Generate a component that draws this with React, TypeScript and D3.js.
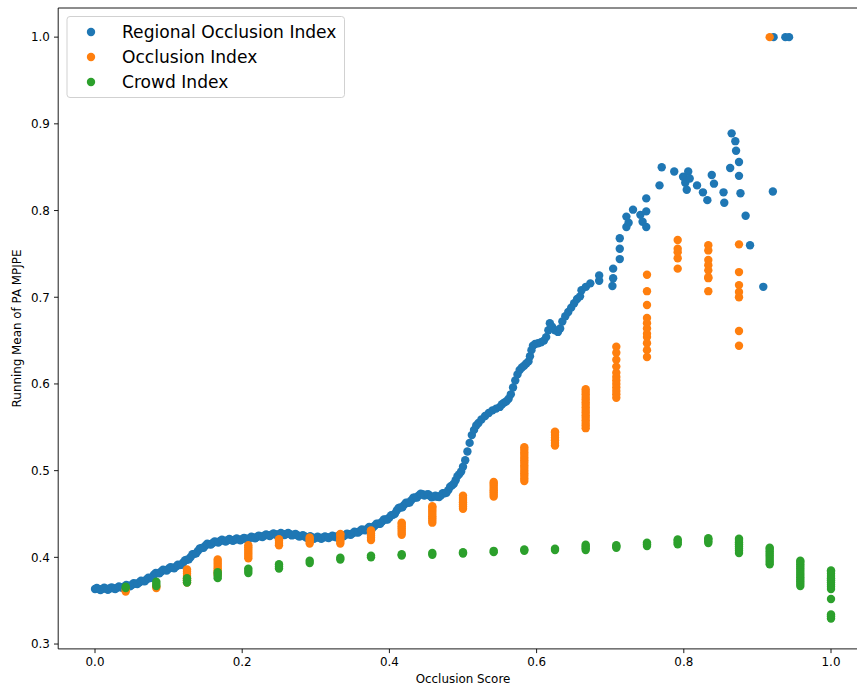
import React from "react";
import * as d3 from "d3";

// ---------- DATA ----------
const xTicks = [0.0, 0.2, 0.4, 0.6, 0.8, 1.0];
const yTicks = [0.3, 0.4, 0.5, 0.6, 0.7, 0.8, 0.9, 1.0];
const seriesNames = ["Regional Occlusion Index", "Occlusion Index", "Crowd Index"];
const seriesColors = ["#1f77b4", "#ff7f0e", "#2ca02c"];

// Regional Occlusion Index: running mean vs occlusion score
const regionalScores = [
  0.000, 0.005, 0.010, 0.015, 0.020, 0.025, 0.030, 0.035, 0.040, 0.045,
  0.050, 0.055, 0.060, 0.065, 0.070, 0.075, 0.080, 0.085, 0.090, 0.095,
  0.100, 0.105, 0.110, 0.115, 0.120, 0.125, 0.130, 0.135, 0.140, 0.145,
  0.150, 0.155, 0.160, 0.165, 0.170, 0.175, 0.180, 0.185, 0.190, 0.195,
  0.200, 0.205, 0.210, 0.215, 0.220, 0.225, 0.230, 0.235, 0.240, 0.245,
  0.250, 0.255, 0.260, 0.265, 0.270, 0.275, 0.280, 0.285, 0.290, 0.295,
  0.300, 0.305, 0.310, 0.315, 0.320, 0.325, 0.330, 0.335, 0.340, 0.345,
  0.350, 0.355, 0.360, 0.365, 0.370, 0.375, 0.380, 0.385, 0.390, 0.395,
  0.400, 0.405, 0.410, 0.415, 0.420, 0.425, 0.430, 0.435, 0.440, 0.445,
  0.450, 0.455, 0.460, 0.465, 0.470, 0.475, 0.480, 0.485, 0.490, 0.495,
  0.500, 0.503, 0.506, 0.509, 0.512, 0.515, 0.518, 0.521, 0.525, 0.530,
  0.535, 0.540, 0.545, 0.550, 0.553, 0.556, 0.559, 0.562, 0.565, 0.568,
  0.571, 0.574, 0.577, 0.580, 0.583, 0.586, 0.589, 0.591, 0.593, 0.595,
  0.598, 0.602, 0.606, 0.610, 0.613, 0.616, 0.618, 0.621, 0.625, 0.629,
  0.632, 0.635, 0.639, 0.643, 0.647, 0.651, 0.655, 0.659, 0.661, 0.667,
  0.673, 0.685, 0.685, 0.703, 0.704, 0.704, 0.713, 0.713, 0.713, 0.722,
  0.725, 0.722, 0.731, 0.741, 0.744, 0.749, 0.749, 0.749, 0.767, 0.770,
  0.787, 0.799, 0.802, 0.804, 0.806, 0.808, 0.818, 0.826, 0.832, 0.838,
  0.841, 0.854, 0.855, 0.863, 0.865, 0.870, 0.871, 0.875, 0.875, 0.877,
  0.884, 0.890, 0.908, 0.921, 0.922, 0.938, 0.943,
  0.0025, 0.0075, 0.0125, 0.0175, 0.0225, 0.0275, 0.0325, 0.0375, 0.0425, 0.0475,
  0.0525, 0.0575, 0.0625, 0.0675, 0.0725, 0.0775, 0.0825, 0.0875, 0.0925, 0.0975,
  0.1025, 0.1075, 0.1125, 0.1175, 0.1225, 0.1275, 0.1325, 0.1375, 0.1425, 0.1475,
  0.1525, 0.1575, 0.1625, 0.1675, 0.1725, 0.1775, 0.1825, 0.1875, 0.1925, 0.1975,
  0.2025, 0.2075, 0.2125, 0.2175, 0.2225, 0.2275, 0.2325, 0.2375, 0.2425, 0.2475,
  0.2525, 0.2575, 0.2625, 0.2675, 0.2725, 0.2775, 0.2825, 0.2875, 0.2925, 0.2975,
  0.3025, 0.3075, 0.3125, 0.3175, 0.3225, 0.3275, 0.3325, 0.3375, 0.3425, 0.3475,
  0.3525, 0.3575, 0.3625, 0.3675, 0.3725, 0.3775, 0.3825, 0.3875, 0.3925, 0.3975,
  0.4025, 0.4075, 0.4125, 0.4175, 0.4225, 0.4275, 0.4325, 0.4375, 0.4425, 0.4475,
  0.4525, 0.4575, 0.4625, 0.4675, 0.4725, 0.4775, 0.4825, 0.4875, 0.4925, 0.4975,
];
const regionalMeans = [
  0.3635, 0.3634, 0.3636, 0.3638, 0.3640, 0.3643, 0.3648, 0.3655, 0.3665, 0.3672,
  0.3682, 0.3695, 0.3710, 0.3726, 0.3744, 0.3762, 0.3800, 0.3818, 0.3836, 0.3853,
  0.3868, 0.3880, 0.3893, 0.3912, 0.3940, 0.3972, 0.4005, 0.4040, 0.4075, 0.4108,
  0.4135, 0.4152, 0.4165, 0.4178, 0.4188, 0.4193, 0.4197, 0.4200, 0.4203, 0.4207,
  0.4210, 0.4215, 0.4222, 0.4228, 0.4235, 0.4242, 0.4250, 0.4256, 0.4262, 0.4266,
  0.4268, 0.4270, 0.4270, 0.4268, 0.4262, 0.4255, 0.4247, 0.4240, 0.4233, 0.4228,
  0.4226, 0.4226, 0.4228, 0.4232, 0.4236, 0.4240, 0.4244, 0.4250, 0.4258, 0.4266,
  0.4277, 0.4290, 0.4303, 0.4316, 0.4330, 0.4345, 0.4365, 0.4388, 0.4412, 0.4437,
  0.4460, 0.4490, 0.4540, 0.4575, 0.4605, 0.4630, 0.4660, 0.4690, 0.4715, 0.4728,
  0.4722, 0.4710, 0.4700, 0.4698, 0.4715, 0.4740, 0.4775, 0.4830, 0.4890, 0.4960,
  0.5045, 0.5120, 0.5220, 0.5320, 0.5410, 0.5470, 0.5520, 0.5550, 0.5590, 0.5630,
  0.5665, 0.5695, 0.5715, 0.5735, 0.5765, 0.5785, 0.5800, 0.5830, 0.5880, 0.5960,
  0.6040, 0.6110, 0.6160, 0.6190, 0.6210, 0.6235, 0.6260, 0.6320, 0.6390, 0.6440,
  0.6460, 0.6470, 0.6480, 0.6500, 0.6540, 0.6620, 0.6700, 0.6660, 0.6620, 0.6600,
  0.6640, 0.6720, 0.6780, 0.6830, 0.6880, 0.6930, 0.6980, 0.7010, 0.7080, 0.7120,
  0.7160, 0.7190, 0.7250, 0.7130, 0.7220, 0.7330, 0.7440, 0.7560, 0.7680, 0.7810,
  0.7860, 0.7930, 0.8010, 0.7950, 0.7870, 0.7810, 0.7990, 0.8140, 0.8290, 0.8500,
  0.8450, 0.8390, 0.8320, 0.8240, 0.8450, 0.8370, 0.8290, 0.8210, 0.8120, 0.8410,
  0.8310, 0.8210, 0.8090, 0.8490, 0.8890, 0.8800, 0.8690, 0.8560, 0.8400, 0.8200,
  0.7940, 0.7600, 0.7120, 0.8220, 1.0000, 1.0000, 1.0000,
  0.3646, 0.3623, 0.3649, 0.3627, 0.3654, 0.3634, 0.3664, 0.3648, 0.3681, 0.3665,
  0.3701, 0.3691, 0.3730, 0.3723, 0.3765, 0.3769, 0.3821, 0.3815, 0.3857, 0.3849,
  0.3886, 0.3875, 0.3915, 0.3914, 0.3968, 0.3977, 0.4035, 0.4046, 0.4104, 0.4110,
  0.4156, 0.4147, 0.4184, 0.4171, 0.4203, 0.4183, 0.4211, 0.4190, 0.4217, 0.4197,
  0.4225, 0.4207, 0.4237, 0.4220, 0.4251, 0.4234, 0.4265, 0.4247, 0.4276, 0.4255,
  0.4281, 0.4258, 0.4281, 0.4253, 0.4271, 0.4239, 0.4256, 0.4225, 0.4243, 0.4215,
  0.4238, 0.4215, 0.4242, 0.4222, 0.4250, 0.4230, 0.4259, 0.4242, 0.4274, 0.4260,
  0.4296, 0.4285, 0.4322, 0.4311, 0.4350, 0.4343, 0.4389, 0.4388, 0.4437, 0.4437,
  0.4487, 0.4503, 0.4570, 0.4578, 0.4630, 0.4633, 0.4687, 0.4691, 0.4734, 0.4713,
  0.4728, 0.4693, 0.4711, 0.4695, 0.4740, 0.4746, 0.4815, 0.4848, 0.4937, 0.4991,
];

// Occlusion Index & Crowd Index: values grouped at discrete scores
const binScores = [
  0.0417, 0.0833, 0.125, 0.1667, 0.2083, 0.25, 0.2917, 0.3333, 0.375, 0.4167,
  0.4583, 0.5, 0.5417, 0.5833, 0.625, 0.6667, 0.7083, 0.75, 0.7917, 0.8333,
  0.875, 0.9167, 0.9583, 1.0,
];
const occlusionValues: number[][] = [
  [0.3605, 0.3625],
  [0.3645, 0.3665],
  [0.371, 0.3735, 0.376, 0.3785, 0.381, 0.3835, 0.386],
  [0.38, 0.3825, 0.385, 0.3875, 0.39, 0.3925, 0.395, 0.3975],
  [0.399, 0.4015, 0.404, 0.4065, 0.409, 0.4115, 0.414],
  [0.414, 0.4165, 0.419, 0.421],
  [0.416, 0.4185, 0.421, 0.423],
  [0.416, 0.4185, 0.421, 0.4235, 0.426, 0.427],
  [0.42, 0.4225, 0.425, 0.4275, 0.43, 0.431],
  [0.426, 0.4285, 0.431, 0.4335, 0.436, 0.4385, 0.44],
  [0.44, 0.4425, 0.445, 0.4475, 0.45, 0.4525, 0.455, 0.4575, 0.459],
  [0.456, 0.4585, 0.461, 0.4635, 0.466, 0.4685, 0.471],
  [0.47, 0.4725, 0.475, 0.4775, 0.48, 0.4825, 0.485, 0.487],
  [0.488, 0.491, 0.494, 0.497, 0.5, 0.503, 0.506, 0.509, 0.512, 0.515, 0.518, 0.521, 0.524, 0.527],
  [0.529, 0.532, 0.535, 0.538, 0.541, 0.544, 0.545],
  [0.549, 0.552, 0.555, 0.558, 0.561, 0.564, 0.567, 0.57, 0.573, 0.576, 0.579, 0.582, 0.585, 0.588, 0.591, 0.594],
  [0.584, 0.588, 0.592, 0.596, 0.6, 0.604, 0.608, 0.613, 0.62, 0.628, 0.636, 0.643],
  [0.631, 0.639, 0.647, 0.654, 0.658, 0.664, 0.67, 0.676, 0.691, 0.707, 0.726],
  [0.733, 0.745, 0.752, 0.756, 0.766],
  [0.707, 0.722, 0.723, 0.731, 0.737, 0.743, 0.754, 0.76],
  [0.644, 0.661, 0.7, 0.706, 0.714, 0.729, 0.761],
  [1.0],
  [],
  [],
];
const crowdValues: number[][] = [
  [0.3645, 0.366],
  [0.367, 0.3695, 0.372],
  [0.371, 0.3735, 0.376],
  [0.376, 0.3785, 0.381, 0.383],
  [0.382, 0.3845, 0.387],
  [0.387, 0.3895, 0.392],
  [0.3935, 0.396],
  [0.3975, 0.3995],
  [0.4, 0.402],
  [0.402, 0.4035],
  [0.403, 0.405],
  [0.4045, 0.406],
  [0.406, 0.4075],
  [0.4075, 0.409],
  [0.4085, 0.41],
  [0.4085, 0.4105, 0.4125, 0.4145],
  [0.411, 0.4125, 0.414],
  [0.413, 0.415, 0.417],
  [0.415, 0.417, 0.419, 0.4205],
  [0.4165, 0.4185, 0.4205, 0.422],
  [0.405, 0.4075, 0.41, 0.4125, 0.415, 0.4175, 0.42, 0.4215],
  [0.392, 0.3945, 0.397, 0.3995, 0.402, 0.4045, 0.407, 0.4095, 0.411],
  [0.367, 0.3695, 0.372, 0.3745, 0.377, 0.3795, 0.382, 0.3845, 0.387, 0.3895, 0.392, 0.3945, 0.396],
  [0.3635, 0.366, 0.3685, 0.371, 0.3735, 0.376, 0.3785, 0.381, 0.3835, 0.385, 0.352, 0.3295, 0.332, 0.334],
];

// ---------- LAYOUT ----------
const W = 857;
const H = 686;
const FONT = "'DejaVu Sans', sans-serif";
const R = 4.2;

export default function App() {
  const x = d3.scaleLinear().domain([-0.05, 1.05]).range([58.2, 867.8]);
  const y = d3.scaleLinear().domain([0.2944, 1.0336]).range([648.9, 8]);
  const [x0, x1] = x.range();
  const [yb, yt] = y.range();

  const regional = regionalScores.map((s, i) => [s, regionalMeans[i]]);
  const occl = binScores.flatMap((s, i) => occlusionValues[i].map((v) => [s, v]));
  const crowd = binScores.flatMap((s, i) => crowdValues[i].map((v) => [s, v]));
  const groups = [regional, occl, crowd];

  return (
    <div style={{ position: "absolute", left: 0, top: 0 }}>
      <svg width={W} height={H} style={{ display: "block", background: "#fff" }}>
        {groups.map((pts, gi) => (
          <g key={gi} fill={seriesColors[gi]}>
            {pts.map((p, i) => (
              <circle key={i} cx={x(p[0])} cy={y(p[1])} r={R} />
            ))}
          </g>
        ))}
        {/* spines */}
        <g stroke="#000" strokeWidth={0.9} fill="none">
          <line x1={x0} x2={x0} y1={yb} y2={yt} />
          <line x1={x0} x2={x1} y1={yb} y2={yb} />
          <line x1={x0} x2={x1} y1={yt} y2={yt} />
          <line x1={x1} x2={x1} y1={yb} y2={yt} />
        </g>
        {/* x ticks */}
        {xTicks.map((t) => (
          <g key={"x" + t} transform={`translate(${x(t)},${yb})`}>
            <line y1={0} y2={4.2} stroke="#000" strokeWidth={0.9} />
            <text y={17} textAnchor="middle" fontFamily={FONT} fontSize={11.9} fill="#000">
              {t.toFixed(1)}
            </text>
          </g>
        ))}
        {/* y ticks */}
        {yTicks.map((t) => (
          <g key={"y" + t} transform={`translate(${x0},${y(t)})`}>
            <line x1={0} x2={-4.2} stroke="#000" strokeWidth={0.9} />
            <text x={-8.4} dy="0.36em" textAnchor="end" fontFamily={FONT} fontSize={11.9} fill="#000">
              {t.toFixed(1)}
            </text>
          </g>
        ))}
        <text x={463} y={683} textAnchor="middle" fontFamily={FONT} fontSize={11.9} fill="#000">
          Occlusion Score
        </text>
        <text
          transform={`translate(21,${(yb + yt) / 2}) rotate(-90)`}
          textAnchor="middle"
          fontFamily={FONT}
          fontSize={11.9}
          fill="#000"
        >
          Running Mean of PA MPJPE
        </text>
        {/* legend */}
        <g>
          <rect x={67} y={16.5} width={277.5} height={81} rx={3} fill="#fff" fillOpacity={0.8} stroke="#cccccc" strokeWidth={0.9} />
          {seriesNames.map((n, i) => (
            <g key={n} transform={`translate(0,${32 + i * 25})`}>
              <circle cx={91} cy={0} r={R} fill={seriesColors[i]} />
              <text x={122} y={5.8} fontFamily={FONT} fontSize={17.1} fill="#000">
                {n}
              </text>
            </g>
          ))}
        </g>
      </svg>
    </div>
  );
}
